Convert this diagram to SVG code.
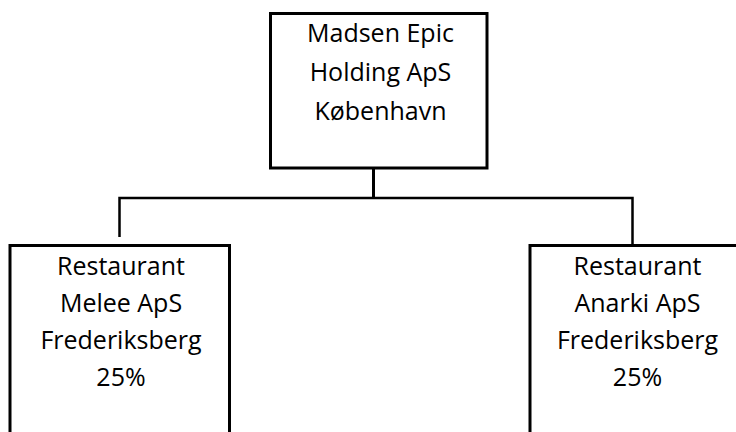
<svg xmlns="http://www.w3.org/2000/svg" width="736" height="432" viewBox="0 0 736 432">
<style>
.box{fill:#fff;stroke:#000;stroke-width:3}
.lbl{font-family:"Open Sans","Noto Sans",sans-serif;font-size:25px;fill:#000;text-anchor:middle}
.con{fill:none;stroke:#000;stroke-width:2.5}
</style>
<rect x="0" y="0" width="736" height="432" fill="#fff"/>
<g id="connectors">
<line class="con" x1="373.5" y1="168" x2="373.5" y2="198" style="stroke-width:3"/>
<polyline class="con" points="119.5,237 119.5,198 632.5,198 632.5,244"/>
</g>
<g id="holding">
<rect class="box" x="270.5" y="13.5" width="216.5" height="154.5"/>
<text class="lbl" x="380.5" y="42.3">Madsen Epic</text>
<text class="lbl" x="380.5" y="81.3">Holding ApS</text>
<text class="lbl" x="380.5" y="120">København</text>
</g>
<g id="melee">
<rect class="box" x="10" y="245.5" width="219.5" height="200"/>
<text class="lbl" x="121" y="274.5">Restaurant</text>
<text class="lbl" x="121" y="312">Melee ApS</text>
<text class="lbl" x="121" y="349">Frederiksberg</text>
<text class="lbl" x="121" y="386">25%</text>
</g>
<g id="anarki">
<rect class="box" x="530" y="245.5" width="250" height="200"/>
<text class="lbl" x="637.5" y="274.5">Restaurant</text>
<text class="lbl" x="637.5" y="312">Anarki ApS</text>
<text class="lbl" x="637.5" y="349">Frederiksberg</text>
<text class="lbl" x="637.5" y="386">25%</text>
</g>
</svg>
